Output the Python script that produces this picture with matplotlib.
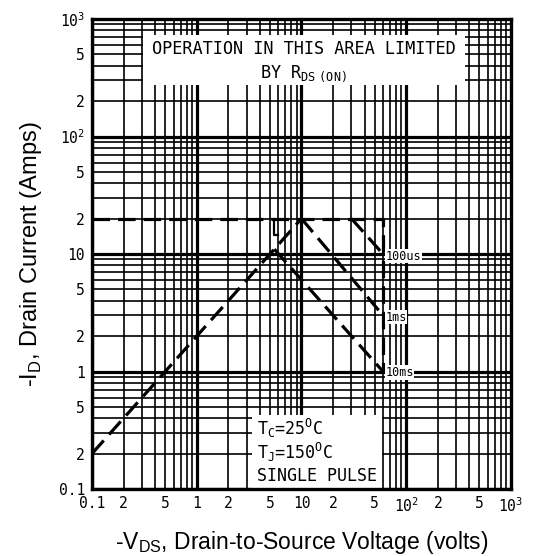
import matplotlib.pyplot as plt
from matplotlib.patches import Rectangle

# safe operating area
rds_v = [0.1, 10]
rds_i = [0.2, 20]
limit_v = [0.1, 60, 60]
limit_i = [20, 20, 1]
us100_v = [30, 60]
us100_i = [20, 10]
ms1_v = [10, 60]
ms1_i = [20, 3]
ms10_v = [5.5, 60]
ms10_i = [11, 1]
notch_v = [5.5, 5.5, 6.0]
notch_i = [20, 14.5, 14.5]

x_ticks = [0.1, 0.2, 0.5, 1, 2, 5, 10, 20, 50, 100, 200, 500, 1000]
x_labels = ["0.1", "2", "5", "1", "2", "5", "10", "2", "5",
            "10$^\\mathregular{2}$", "2", "5", "10$^\\mathregular{3}$"]
y_ticks = [0.1, 0.2, 0.5, 1, 2, 5, 10, 20, 50, 100, 200, 500, 1000]
y_labels = ["0.1", "2", "5", "1", "2", "5", "10", "2", "5",
            "10$^\\mathregular{2}$", "2", "5", "10$^\\mathregular{3}$"]

mono = "DejaVu Sans Mono"

fig = plt.figure(figsize=(5.34, 5.56), dpi=100)
ax = fig.add_axes([0.1723, 0.1205, 0.7846, 0.8453])
ax.set_xscale("log")
ax.set_yscale("log")
ax.set_xlim(0.1, 1000)
ax.set_ylim(0.1, 1000)

# log paper grid
for d in [0.1, 1, 10, 100]:
    for k in range(1, 10):
        lw = 2.3 if k == 1 else 1.2
        ax.axvline(k * d, color="black", lw=lw, zorder=1)
        ax.axhline(k * d, color="black", lw=lw, zorder=1)

# white label areas
ax.add_patch(Rectangle((0.307, 274), 364 - 0.307, 731 - 274,
                       facecolor="white", edgecolor="none", zorder=2))
ax.add_patch(Rectangle((3.4, 0.1), 59 - 3.4, 0.43 - 0.1,
                       facecolor="white", edgecolor="none", zorder=2))

dash = (0, (5.5, 2.5))
for v, i in [(rds_v, rds_i), (limit_v, limit_i), (us100_v, us100_i),
             (ms1_v, ms1_i), (ms10_v, ms10_i)]:
    ax.plot(v, i, color="black", lw=2.3, linestyle=dash, zorder=3)
ax.plot(notch_v, notch_i, color="black", lw=1.6, zorder=3)

ax.text(10.5, 560, "OPERATION IN THIS AREA LIMITED", family=mono, fontsize=12.2,
        ha="center", va="center", zorder=4)
ax.text(10.5, 345, "BY R$_\\mathregular{DS\\ (ON)}$", family=mono, fontsize=12.2,
        ha="center", va="center", zorder=4)

ax.text(3.75, 0.325, "T$_\\mathregular{C}$=25$^\\mathregular{O}$C", family=mono,
        fontsize=12, ha="left", va="center", zorder=4)
ax.text(3.75, 0.205, "T$_\\mathregular{J}$=150$^\\mathregular{O}$C", family=mono,
        fontsize=12, ha="left", va="center", zorder=4)
ax.text(3.75, 0.13, "SINGLE PULSE", family=mono, fontsize=12,
        ha="left", va="center", zorder=4)

for label, y in [("100us", 9.6), ("1ms", 2.9), ("10ms", 0.98)]:
    ax.text(63, y, label, family=mono, fontsize=8.5, ha="left", va="center",
            zorder=4, bbox=dict(facecolor="white", edgecolor="none", pad=0.5))

ax.set_xticks(x_ticks)
ax.set_xticklabels(x_labels, family=mono, fontsize=10.5)
ax.set_yticks(y_ticks)
ax.set_yticklabels(y_labels, family=mono, fontsize=10.5)
ax.minorticks_off()
ax.tick_params(length=0, pad=5)

for s in ax.spines.values():
    s.set_linewidth(2.4)
    s.set_zorder(5)

ax.set_xlabel("-V$_\\mathregular{DS}$, Drain-to-Source Voltage (volts)",
              family="Liberation Sans", fontsize=16.5, labelpad=10)
ax.set_ylabel("-I$_\\mathregular{D}$, Drain Current (Amps)",
              family="Liberation Sans", fontsize=17, labelpad=11)

fig.savefig("out.png", dpi=100)
